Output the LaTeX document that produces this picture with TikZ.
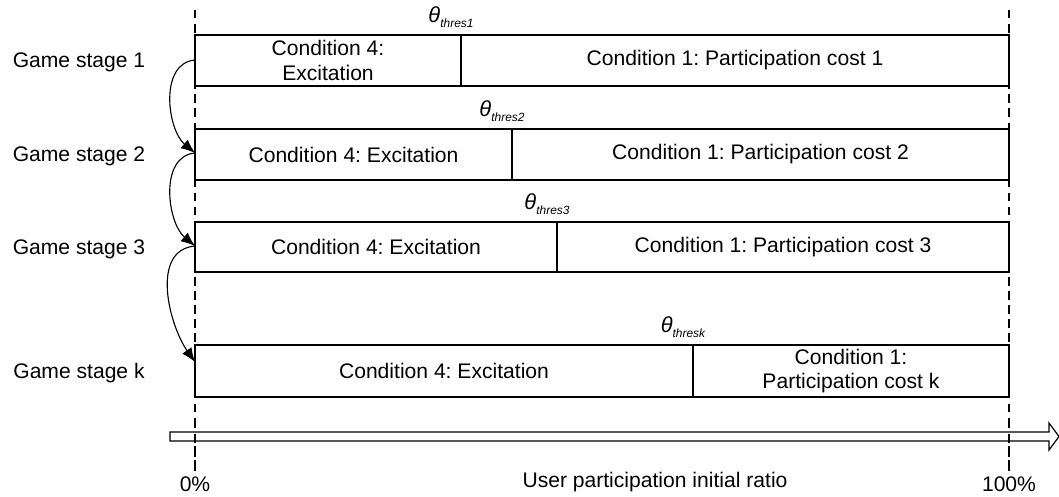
\documentclass[tikz,border=0pt]{standalone}
\usepackage{fontspec}
\setmainfont{Liberation Sans}
\usetikzlibrary{arrows.meta}
\frenchspacing

\newcommand{\thres}[1]{{\itshape\fontsize{15.5}{15}\selectfont θ\raisebox{-0.45ex}{\fontsize{8.5}{8.5}\selectfont #1}}}

\tikzset{
	stagelabel/.style = {font = \fontsize{15}{17.5}\selectfont},
	celltext/.style = {align = center, font = \fontsize{15}{17.5}\selectfont},
	threslabel/.style = {anchor = south, inner sep = 1pt},
	stagearrow/.style = {-{Latex[length = 10pt, width = 8pt]}, line width = 0.8pt},
	border/.style = {dash pattern = on 6pt off 4pt, line width = 0.8pt}
}

\begin{document}
\begin{tikzpicture}[x = 0.025cm, y = -0.025cm, line width = 0.85pt]

	\useasboundingbox (0, 0) rectangle (1059, 496);

	% Dashed borders at 0% and 100%

	\draw [border] (195, 10) -- (195, 472);
	\draw [border] (1009, 10) -- (1009, 472);

	% Rows of the game stages

	\foreach \n/\t/\b/\d/\a/\lt/\rt in {
		1/35/86/461/60/{Condition 4:\\Excitation}/{Condition 1: Participation cost 1},
		2/129/180/512/153/{Condition 4: Excitation}/{Condition 1: Participation cost 2},
		3/222/272/557/246/{Condition 4: Excitation}/{Condition 1: Participation cost 3},
		k/345/397/693/362/{Condition 4: Excitation}/{Condition 1:\\Participation cost k}}
	{
		\draw [fill = white] (195, \t) rectangle (1009, \b);
		\draw (\d, \t) -- (\d, \b);
		\node [celltext] (exc\n) at ({(195 + \d) / 2}, {(\t + \b) / 2}) {\lt};
		\node [celltext] (cost\n) at ({(\d + 1009) / 2}, {(\t + \b) / 2}) {\rt};
		\node [threslabel] (th\n) at (\d - 10, \t - 5) {\thres{thres\n}};
		\node [stagelabel] (stage\n) at (79, {(\t + \b) / 2 + 2}) {Game stage \n};
		\coordinate (row\n) at (195, \a);
	}

	% Transitions between stages

	\draw [stagearrow] (row1) to [out = 185, in = 140] (row2);
	\draw [stagearrow] (row2) to [out = 185, in = 140] (row3);
	\draw [stagearrow] (row3) to [out = 185, in = 125] (rowk);

	% Ratio axis

	\draw [fill = white] (170, 432) -- (1049, 432) -- (1049, 423) -- (1059, 436.5)
		-- (1049, 450) -- (1049, 441) -- (170, 441) -- cycle;
	\draw [border] (195, 420) -- (195, 472);
	\draw [border] (1009, 420) -- (1009, 472);

	\node [stagelabel] (zero) at (195, 484) {0\%};
	\node [stagelabel] (full) at (1009, 484) {100\%};
	\node [stagelabel] (ratio) at (655, 482) {User participation initial ratio};

\end{tikzpicture}
\end{document}
